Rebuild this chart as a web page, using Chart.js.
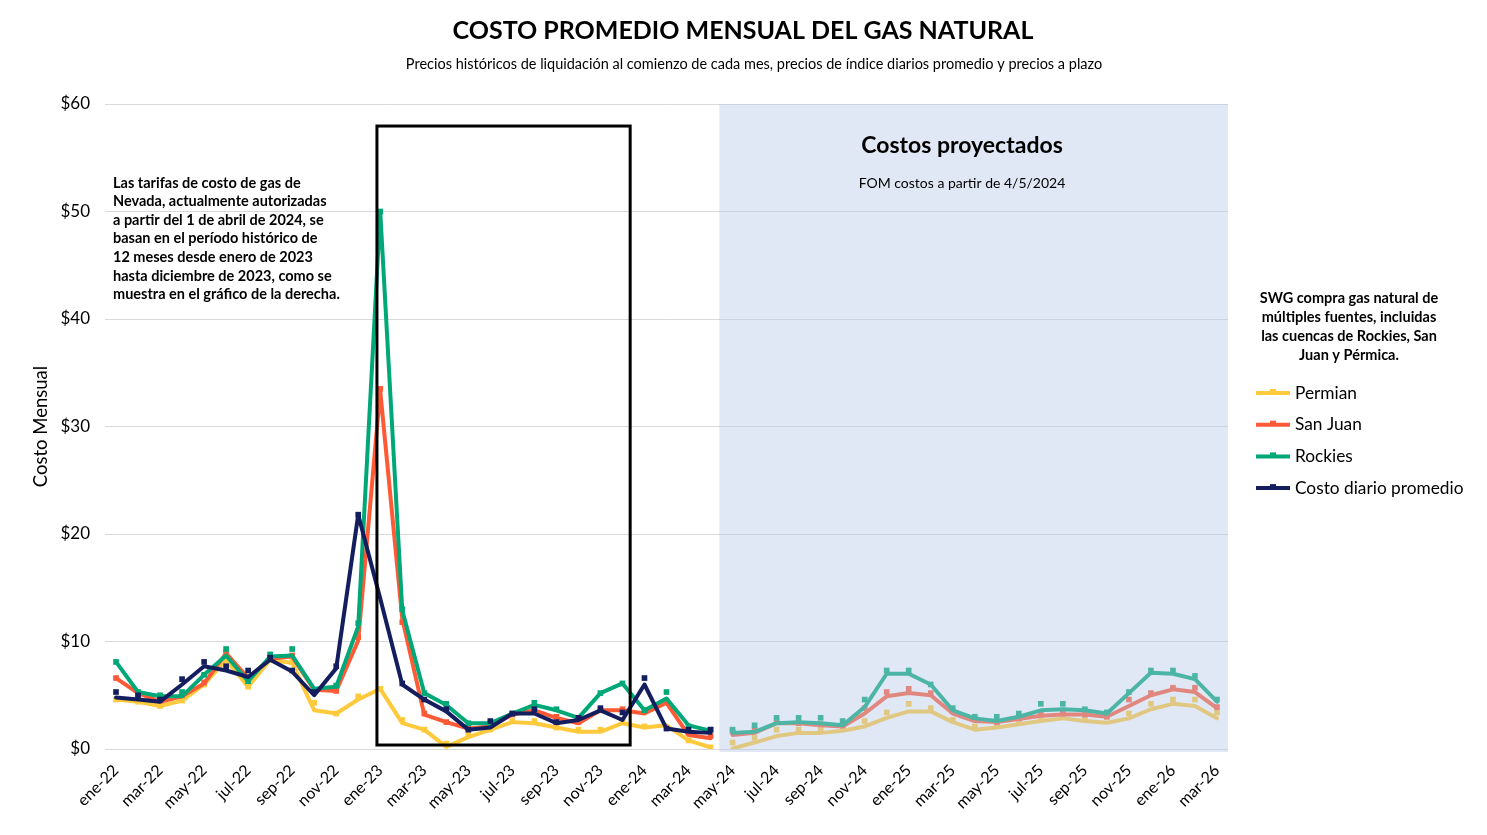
<!DOCTYPE html>
<html>
<head>
<meta charset="utf-8">
<script src="https://cdn.jsdelivr.net/npm/chart.js@4/dist/chart.umd.min.js"></script>
<style>
  body { margin: 0; background: #fff; }
  #wrap { width: 1487px; height: 835px; }
</style>
</head>
<body>
<div id="wrap"><canvas id="gasChart" width="1487" height="835"></canvas></div>
<script>
// Month labels (ene-22 .. mar-26)
const months = [
  'ene-22','feb-22','mar-22','abr-22','may-22','jun-22','jul-22','ago-22','sep-22','oct-22','nov-22','dic-22',
  'ene-23','feb-23','mar-23','abr-23','may-23','jun-23','jul-23','ago-23','sep-23','oct-23','nov-23','dic-23',
  'ene-24','feb-24','mar-24','abr-24','may-24','jun-24','jul-24','ago-24','sep-24','oct-24','nov-24','dic-24',
  'ene-25','feb-25','mar-25','abr-25','may-25','jun-25','jul-25','ago-25','sep-25','oct-25','nov-25','dic-25',
  'ene-26','feb-26','mar-26'
];

// Historical values (ene-22 .. abr-24): line values and monthly settlement markers
const permianHist    = [4.6, 4.4, 4.0, 4.5, 6.0, 8.3, 5.8, 8.3, 8.0, 3.6, 3.3, 4.6, 5.6, 2.4, 1.8, 0.2, 1.1, 1.8, 2.5, 2.4, 2.0, 1.6, 1.6, 2.4, 2.0, 2.2, 0.8, 0.15];
const permianHistPts = [4.6, 4.4, 4.0, 4.5, 6.0, 8.3, 5.8, 8.3, 8.1, 4.3, 3.3, 4.9, 5.6, 2.7, 1.8, 0.5, 1.4, 1.8, 2.6, 2.6, 2.0, 1.8, 1.8, 2.6, 2.1, 2.0, 0.8, 0.15];
const sanJuanHist    = [6.6, 5.2, 4.4, 4.9, 6.1, 8.9, 6.6, 8.4, 8.6, 5.5, 5.4, 10.1, 33.3, 12.1, 3.2, 2.5, 1.9, 2.1, 3.2, 3.6, 2.9, 2.4, 3.6, 3.6, 3.3, 4.3, 1.3, 1.0];
const sanJuanHistPts = [6.6, 5.1, 4.5, 5.0, 6.2, 9.0, 6.6, 8.5, 8.7, 5.5, 5.4, 10.4, 33.5, 11.8, 3.3, 2.5, 2.0, 2.2, 3.2, 3.7, 3.0, 2.5, 3.6, 3.7, 3.6, 4.5, 1.5, 1.2];
const rockiesHist    = [8.1, 5.3, 4.9, 4.9, 6.9, 8.7, 6.3, 8.6, 8.7, 5.6, 5.8, 11.4, 50.0, 12.9, 5.2, 4.1, 2.4, 2.4, 3.3, 4.1, 3.6, 2.9, 5.2, 6.1, 3.6, 4.7, 2.2, 1.7];
const rockiesHistPts = [8.1, 5.3, 5.0, 5.3, 6.9, 9.3, 6.3, 8.8, 9.3, 5.5, 5.9, 11.7, 50.0, 13.0, 5.2, 4.2, 2.4, 2.4, 3.3, 4.3, 3.7, 2.9, 5.2, 6.1, 3.6, 5.3, 2.1, 1.8];
const dailyHist      = [4.8, 4.6, 4.4, 6.0, 7.7, 7.3, 6.7, 8.3, 7.2, 5.0, 7.5, 21.8, 14.0, 6.0, 4.6, 3.5, 1.8, 2.0, 3.3, 3.3, 2.4, 2.7, 3.6, 2.7, 6.0, 1.9, 1.6, 1.5];
const dailyHistPts   = [5.3, 5.0, 4.6, 6.5, 8.1, 7.7, 7.3, 8.5, 7.3, 5.3, 7.7, 21.8, null, 6.1, 4.6, 3.7, 1.8, 2.6, 3.3, 3.7, 2.5, 2.9, 3.8, 3.4, 6.6, 1.9, 1.8, 1.8];

// Projected values (may-24 .. mar-26)
const permianFcst    = [0.05, 0.6, 1.2, 1.5, 1.5, 1.7, 2.1, 2.9, 3.5, 3.5, 2.5, 1.8, 2.0, 2.3, 2.6, 2.85, 2.6, 2.45, 2.85, 3.7, 4.2, 4.0, 2.85];
const permianFcstPts = [0.6, 1.05, 1.8, 1.8, 1.8, 1.9, 2.6, 3.4, 4.2, 3.8, 2.7, 2.1, 2.2, 2.6, 3.0, 3.0, 2.75, 3.0, 3.3, 4.2, 4.6, 4.6, 3.4];
const sanJuanFcst    = [1.3, 1.5, 2.4, 2.4, 2.2, 2.1, 3.3, 4.9, 5.2, 5.0, 3.3, 2.6, 2.5, 2.8, 3.1, 3.2, 3.2, 3.0, 4.0, 5.0, 5.55, 5.3, 3.8];
const sanJuanFcstPts = [1.6, 1.8, 2.5, 2.4, 2.3, 2.2, 3.8, 5.3, 5.6, 5.2, 3.5, 2.8, 2.5, 2.85, 3.25, 3.3, 3.2, 3.0, 4.6, 5.2, 5.7, 5.7, 3.9];
const rockiesFcst    = [1.5, 1.6, 2.4, 2.5, 2.4, 2.2, 3.9, 7.0, 7.0, 6.0, 3.6, 2.85, 2.6, 3.0, 3.6, 3.7, 3.6, 3.3, 5.2, 7.1, 7.0, 6.5, 4.4];
const rockiesFcstPts = [1.8, 2.2, 2.9, 2.9, 2.9, 2.6, 4.6, 7.3, 7.3, 6.0, 3.8, 3.0, 3.0, 3.3, 4.2, 4.2, 3.7, 3.4, 5.3, 7.3, 7.3, 6.8, 4.6];

const yTicks = [0, 10, 20, 30, 40, 50, 60];

const series = [
  { label: 'Permian', color: '#FFC93C', hist: permianHist, histPts: permianHistPts, fcst: permianFcst, fcstPts: permianFcstPts, order: 3 },
  { label: 'San Juan', color: '#FF5A36', hist: sanJuanHist, histPts: sanJuanHistPts, fcst: sanJuanFcst, fcstPts: sanJuanFcstPts, order: 2 },
  { label: 'Rockies', color: '#00A878', hist: rockiesHist, histPts: rockiesHistPts, fcst: rockiesFcst, fcstPts: rockiesFcstPts, order: 1 },
  { label: 'Costo diario promedio', color: '#141E5F', hist: dailyHist, histPts: dailyHistPts, fcst: null, fcstPts: null, order: 0 }
];

const nHist = permianHist.length;
const nFcst = months.length - nHist;
const pad = (arr, before, after) => [...Array(before).fill(null), ...arr, ...Array(after).fill(null)];

const datasets = [];
series.forEach(s => {
  const line = (data) => ({ label: s.label, data, borderColor: s.color, backgroundColor: s.color, borderWidth: 4,
    pointRadius: 0, tension: 0, borderJoinStyle: 'round', borderCapStyle: 'round', order: s.order + 0.5, spanGaps: false });
  const pts = (data) => ({ label: s.label + ' pts', data, showLine: false, pointStyle: 'rect', pointRadius: 4,
    pointBorderWidth: 0, pointBackgroundColor: s.color, borderColor: s.color, order: s.order + 0.4 });
  datasets.push(line(pad(s.hist, 0, nFcst)));
  datasets.push(pts(pad(s.histPts, 0, nFcst)));
  if (s.fcst) {
    datasets.push(line(pad(s.fcst, nHist, 0)));
    datasets.push(pts(pad(s.fcstPts, nHist, 0)));
  }
});

const chartTitle = 'COSTO PROMEDIO MENSUAL DEL GAS NATURAL';
const chartSubtitle = 'Precios históricos de liquidación al comienzo de cada mes, precios de índice diarios promedio y precios a plazo';
const leftNote = [
  'Las tarifas de costo de gas de',
  'Nevada, actualmente autorizadas',
  'a partir del 1 de abril de 2024, se',
  'basan en el período histórico de',
  '12 meses desde enero de 2023',
  'hasta diciembre de 2023, como se',
  'muestra en el gráfico de la derecha.'
];
const rightNote = [
  'SWG compra gas natural de',
  'múltiples fuentes, incluidas',
  'las cuencas de Rockies, San',
  'Juan y Pérmica.'
];

// Overlay for projected costs, highlight box and notes
const annotations = {
  id: 'annotations',
  afterDatasetsDraw(chart) {
    const { ctx, chartArea, scales: { x, y } } = chart;
    ctx.save();
    const px0 = x.getPixelForValue(27.4);
    const top = y.getPixelForValue(60);
    ctx.fillStyle = 'rgba(180,199,231,0.42)';
    ctx.fillRect(px0, top, chartArea.right - px0, chartArea.bottom + 3 - top);

    // 2023 box
    const bx0 = x.getPixelForValue(11.85), bx1 = x.getPixelForValue(23.35);
    const by0 = y.getPixelForValue(57.95), by1 = y.getPixelForValue(0.37);
    ctx.strokeStyle = '#000';
    ctx.lineWidth = 3;
    ctx.strokeRect(bx0, by0, bx1 - bx0, by1 - by0);

    ctx.fillStyle = '#000';
    ctx.textBaseline = 'middle';
    ctx.textAlign = 'center';
    ctx.font = 'bold 23px Lato';
    ctx.fillText('Costos proyectados', 962, 146);
    ctx.font = '14px Lato';
    ctx.fillText('FOM costos a partir de 4/5/2024', 962, 183);

    ctx.textAlign = 'left';
    ctx.font = 'bold 14.5px Lato';
    leftNote.forEach((t, i) => ctx.fillText(t, 113, 183 + i * 18.6));
    ctx.restore();
  },
  afterDraw(chart) {
    const { ctx } = chart;
    ctx.save();
    ctx.fillStyle = '#000';
    ctx.textBaseline = 'middle';
    ctx.textAlign = 'center';
    ctx.font = 'bold 25px Lato';
    ctx.fillText(chartTitle, 743, 31);
    ctx.font = '14.5px Lato';
    ctx.fillText(chartSubtitle, 754, 64);

    ctx.font = 'bold 14.5px Lato';
    rightNote.forEach((t, i) => ctx.fillText(t, 1349, 298 + i * 19));

    // legend
    ctx.textAlign = 'left';
    ctx.font = '17.3px Lato';
    series.forEach((s, i) => {
      const ly = 393 + i * 31.7;
      ctx.strokeStyle = s.color;
      ctx.lineWidth = 4;
      ctx.beginPath();
      ctx.moveTo(1256, ly);
      ctx.lineTo(1290, ly);
      ctx.stroke();
      ctx.fillStyle = s.color;
      ctx.fillRect(1270, ly - 4, 6, 5);
      ctx.fillStyle = '#000';
      ctx.fillText(s.label, 1295, ly);
    });
    ctx.restore();
  }
};

Chart.defaults.font.family = 'Lato';
Chart.defaults.color = '#000';

const ctx = document.getElementById('gasChart').getContext('2d');
const chart = new Chart(ctx, {
  type: 'line',
  data: { labels: months, datasets },
  options: {
    responsive: false,
    animation: false,
    layout: { padding: { left: 0, right: 259, top: 104, bottom: 0 } },
    plugins: {
      legend: { display: false },
      tooltip: { enabled: false }
    },
    scales: {
      x: {
        offset: true,
        grid: { display: false, drawTicks: false },
        border: { display: false },
        ticks: {
          autoSkip: false,
          minRotation: 45,
          maxRotation: 45,
          padding: 12,
          font: { size: 16 },
          callback: (v, i) => (i % 2 === 0 ? months[i] : '')
        },
        afterFit: (s) => { s.height = 86; }
      },
      y: {
        min: yTicks[0],
        max: yTicks[yTicks.length - 1],
        afterBuildTicks: (s) => { s.ticks = yTicks.map(v => ({ value: v })); },
        grid: { color: '#D9D9D9', lineWidth: 1, drawTicks: false },
        border: { display: false },
        ticks: { padding: 15, font: { size: 17 }, callback: v => '$' + v },
        title: { display: true, text: 'Costo Mensual', font: { size: 18.5 }, padding: { top: 30, bottom: 0 } },
        afterFit: (s) => { s.width = 105; }
      }
    }
  },
  plugins: [annotations]
});
</script>
</body>
</html>
